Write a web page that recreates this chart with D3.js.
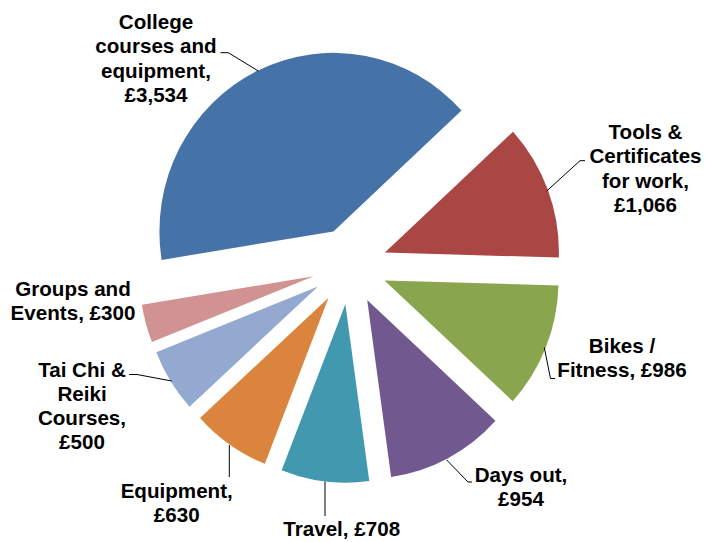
<!DOCTYPE html>
<html>
<head>
<meta charset="utf-8">
<script src="https://cdn.jsdelivr.net/npm/d3@7/dist/d3.min.js"></script>
<style>
  html, body { margin: 0; padding: 0; background: #fff; }
  svg text { font-family: "Liberation Sans", Arial, sans-serif; font-weight: bold; font-size: 20.6px; fill: #000; }
</style>
</head>
<body>
<svg id="chart" width="707" height="542"></svg>
<script>
// Spending breakdown (£)
const categories = [
  "College courses and equipment",
  "Tools & Certificates for work",
  "Bikes / Fitness",
  "Days out",
  "Travel",
  "Equipment",
  "Tai Chi & Reiki Courses",
  "Groups and Events"
];
const values = [3534, 1066, 986, 954, 708, 630, 500, 300];
const colors = ["#4572A7", "#AA4643", "#89A54E", "#71588F", "#4198AF", "#DB843D", "#93A9CF", "#D19392"];

// How each category name wraps; the value is appended to the last line or put on its own line
const nameLines = [
  [["College", "courses and", "equipment,"], false],
  [["Tools &", "Certificates", "for work,"], false],
  [["Bikes /", "Fitness,"], true],
  [["Days out,"], false],
  [["Travel,"], true],
  [["Equipment,"], false],
  [["Tai Chi &", "Reiki", "Courses,"], false],
  [["Groups and", "Events,"], true]
];

// Label placement: centre x, first baseline y
const labelPos = [
  [156, 29], [645.5, 139], [622, 353], [521, 481.5],
  [341.7, 536], [176.7, 497.5], [82, 376.5], [73, 296]
];
const lineHeight = 24.3;

// Leader lines from label to slice
const leaders = [
  [[220.5, 52.7], [228.3, 52.7], [258.3, 71]],
  [[585, 160.7], [580, 160.7], [546.7, 191]],
  [[544.3, 347.5], [550.5, 378.5], [555, 378.5]],
  [[446.7, 460], [468, 482], [472, 482]],
  [[325, 481.5], [325, 516]],
  [[229.3, 445], [229.3, 477]],
  [[129, 374.5], [137, 374.5], [171.7, 381]],
  null
];

const fmt = v => "£" + d3.format(",")(v);

const svg = d3.select("#chart");
const cx = 349.8, cy = 266, R = 174, explode = 37.5, yScale = 1.026;
const startDeg = 260.8;

const pie = d3.pie().sort(null)
  .startAngle(startDeg * Math.PI / 180)
  .endAngle(startDeg * Math.PI / 180 + 2 * Math.PI);
const arc = d3.arc().innerRadius(0).outerRadius(R);

const arcs = pie(values);

const g = svg.append("g").attr("transform", `translate(${cx},${cy}) scale(1,${yScale})`);
g.selectAll("path.slice")
  .data(arcs)
  .join("path")
  .attr("class", "slice")
  .attr("fill", (d, i) => colors[i])
  .attr("transform", d => {
    const mid = (d.startAngle + d.endAngle) / 2;
    return `translate(${explode * Math.sin(mid)},${-explode * Math.cos(mid)})`;
  })
  .attr("d", arc);

// Leader lines
const line = d3.line();
svg.selectAll("path.leader")
  .data(leaders.filter(l => l))
  .join("path")
  .attr("class", "leader")
  .attr("fill", "none")
  .attr("stroke", "#000")
  .attr("stroke-width", 1)
  .attr("d", line);

// Labels
categories.forEach((c, i) => {
  const [parts, inline] = nameLines[i];
  const lines = parts.slice();
  if (inline) lines[lines.length - 1] = lines[lines.length - 1] + " " + fmt(values[i]);
  else lines.push(fmt(values[i]));
  const t = svg.append("text")
    .attr("text-anchor", "middle")
    .attr("x", labelPos[i][0])
    .attr("y", labelPos[i][1]);
  lines.forEach((s, k) => {
    t.append("tspan")
      .attr("x", labelPos[i][0])
      .attr("y", labelPos[i][1] + k * lineHeight)
      .text(s);
  });
});
</script>
</body>
</html>
